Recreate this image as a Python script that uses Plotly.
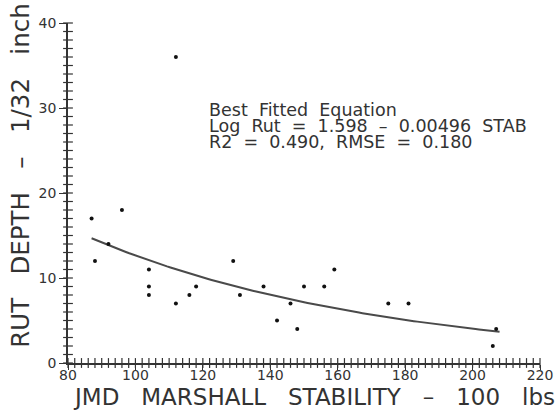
import numpy as np
import plotly.graph_objects as go

# Marshall stability (100 lbs) vs. rut depth (1/32 inch)
stability = [87, 88, 92, 96, 104, 104, 104, 112, 112, 116, 118, 129, 131,
             138, 142, 146, 148, 150, 156, 159, 175, 181, 206, 207]
rut_depth = [17, 12, 14, 18, 11, 9, 8, 36, 7, 8, 9, 12, 8,
             9, 5, 7, 4, 9, 9, 11, 7, 7, 2, 4]

# Fitted model: log10(Rut) = a - b * STAB
fit_a = 1.598
fit_b = 0.00496
fit_range = [87, 208]

x_ticks = [80, 100, 120, 140, 160, 180, 200, 220]
y_ticks = [0, 10, 20, 30, 40]
x_minor_step = 2
y_minor_step = 1

fit_x = np.linspace(fit_range[0], fit_range[1], 120)
fit_y = 10 ** (fit_a - fit_b * fit_x)

ink = "#333333"
font_family = "DejaVu Sans"

fig = go.Figure()

# minor tick marks along both axes
x_minor = np.arange(x_ticks[0], x_ticks[-1] + 0.01, x_minor_step)
y_minor = np.arange(y_ticks[0], y_ticks[-1] + 0.01, y_minor_step)
fig.add_trace(go.Scatter(x=x_minor, y=[y_ticks[0]] * len(x_minor), mode="markers",
                         marker=dict(symbol="line-ns", size=7, line=dict(color=ink, width=1.2)),
                         cliponaxis=False, hoverinfo="skip"))
fig.add_trace(go.Scatter(x=[x_ticks[0]] * len(y_minor), y=y_minor, mode="markers",
                         marker=dict(symbol="line-ew", size=7, line=dict(color=ink, width=1.2)),
                         cliponaxis=False, hoverinfo="skip"))

fig.add_trace(go.Scatter(x=fit_x, y=fit_y, mode="lines",
                         line=dict(color="#4a4a4a", width=2), hoverinfo="skip"))
fig.add_trace(go.Scatter(x=stability, y=rut_depth, mode="markers",
                         marker=dict(color="#111111", size=4)))

axis_common = dict(
    showgrid=False, zeroline=False, showline=True, linecolor=ink, linewidth=1.5,
    ticks="outside", tickwidth=1.2, tickcolor=ink, tickmode="linear", automargin=False,
    tickfont=dict(family=font_family, size=14, color=ink),
)
fig.update_xaxes(range=[x_ticks[0], x_ticks[-1]], tick0=x_ticks[0],
                 dtick=x_ticks[1] - x_ticks[0], ticklen=5, ticklabelstandoff=-7,
                 **axis_common)
fig.update_yaxes(range=[y_ticks[0], y_ticks[-1]], tick0=y_ticks[0],
                 dtick=y_ticks[1] - y_ticks[0], ticklen=7,
                 **axis_common)

eq_lines = [
    "Best  Fitted  Equation",
    f"Log  Rut  =  {fit_a:.3f}  –  {fit_b:.5f}  STAB",
    "R2  =  0.490,  RMSE  =  0.180",
]
eq_y = [29.75, 27.9, 26.05]
for txt, yy in zip(eq_lines, eq_y):
    fig.add_annotation(x=121.2, y=yy, xref="x", yref="y", text=txt, showarrow=False,
                       xanchor="left", yanchor="middle",
                       font=dict(family=font_family, size=17.5, color=ink))

fig.add_annotation(x=0.521, y=-0.1, xref="paper", yref="paper",
                   text="JMD   MARSHALL   STABILITY   –   100   lbs", showarrow=False,
                   xanchor="center", yanchor="middle",
                   font=dict(family=font_family, size=23, color=ink))
fig.add_annotation(x=-0.1, y=0.55, xref="paper", yref="paper",
                   text="RUT   DEPTH   –   1/32   inch", showarrow=False, textangle=-90,
                   xanchor="center", yanchor="middle",
                   font=dict(family=font_family, size=24.5, color=ink))

fig.update_layout(
    width=558, height=410, showlegend=False,
    margin=dict(l=68, r=18, t=23, b=47, autoexpand=False),
    paper_bgcolor="white", plot_bgcolor="white",
)
fig.write_html("out.html")
